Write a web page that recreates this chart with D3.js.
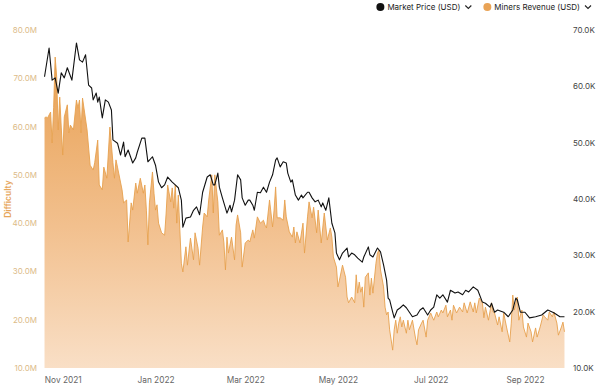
<!DOCTYPE html>
<html>
<head>
<meta charset="utf-8">
<script src="https://cdn.jsdelivr.net/npm/d3@7"></script>
<style>
  body { margin: 0; background: #fff; }
  svg { font-family: Inter, "Noto Sans", sans-serif; display: block; }
</style>
</head>
<body>
<div id="chart"></div>
<script>
// Series are [day offset from startDate, value]
const startDate = new Date(2021, 9, 19);
const endDate = new Date(2022, 8, 28);

// Miners revenue, millions USD (left axis)
const revenueSeries = [
  [1,61.8],[2,62.0],[3,61.8],[5,63.0],[6,56.6],[7,64.0],[8,74.4],[9,70.3],[10,59.3],[11,66.1],
  [12,59.9],[13,54.1],[14,62.0],[16,64.5],[17,58.7],[18,60.3],[20,59.3],[22,65.5],[23,63.8],[24,65.5],
  [25,58.7],[26,65.9],[29,59.3],[31,52.0],[33,51.0],[34,52.5],[36,57.2],[37,47.9],[39,46.9],[40,51.6],
  [42,49.3],[44,59.9],[46,52.5],[47,49.3],[48,53.1],[49,51.6],[52,46.9],[53,44.2],[55,44.8],[56,36.1],
  [58,44.2],[59,42.7],[61,48.3],[62,46.2],[64,49.3],[66,46.2],[67,47.9],[68,42.7],[69,35.5],[70,44.2],
  [72,50.6],[73,46.2],[74,42.7],[75,43.8],[76,40.0],[78,38.0],[80,37.5],[81,42.1],[82,47.9],[84,44.4],
  [85,47.3],[86,43.1],[87,47.9],[88,40.0],[89,45.8],[91,31.7],[92,29.9],[94,35.1],[95,31.3],[97,36.9],
  [99,32.4],[100,38.0],[102,34.8],[103,31.3],[105,39.2],[106,42.1],[108,41.3],[109,44.8],[111,50.0],[112,42.1],
  [113,50.0],[115,44.4],[116,37.5],[118,38.6],[119,35.9],[120,30.3],[121,37.1],[122,33.8],[124,37.1],[126,32.4],
  [127,39.6],[128,41.7],[130,38.0],[131,30.9],[133,35.9],[135,36.5],[136,36.1],[138,38.6],[139,36.9],[141,41.3],
  [143,40.0],[145,40.6],[146,39.6],[147,39.0],[149,44.8],[151,39.2],[152,42.7],[153,47.5],[154,41.1],[156,41.1],
  [158,40.6],[159,44.8],[160,41.3],[162,38.2],[164,37.1],[165,39.2],[166,35.9],[167,38.2],[169,35.9],[171,40.0],
  [172,33.8],[174,41.3],[175,44.4],[177,41.1],[178,43.3],[180,38.0],[181,42.7],[183,35.9],[184,39.0],[185,42.1],
  [187,36.5],[189,39.0],[190,37.1],[191,33.0],[193,30.9],[194,26.8],[195,28.2],[197,31.3],[199,28.8],[200,24.7],
  [201,23.5],[203,24.7],[205,23.5],[206,29.3],[207,25.5],[208,27.8],[209,25.7],[210,26.8],[211,22.6],[212,28.8],
  [214,29.7],[215,25.1],[216,28.6],[217,25.5],[219,31.7],[220,33.8],[221,34.4],[222,30.3],[224,26.8],[225,22.6],
  [226,21.0],[227,21.6],[228,17.9],[230,13.7],[231,17.9],[232,19.9],[233,17.2],[234,19.3],[235,20.6],[236,18.5],
  [237,19.9],[239,17.2],[240,19.9],[241,17.9],[243,19.9],[245,16.2],[246,14.8],[247,17.9],[249,19.3],[250,19.9],
  [252,16.4],[253,19.9],[255,21.4],[256,20.6],[257,19.9],[259,21.6],[260,20.6],[262,22.0],[263,21.4],[265,23.0],
  [266,20.6],[268,22.0],[269,19.9],[270,23.0],[272,21.4],[274,22.6],[276,21.6],[277,23.5],[279,21.4],[281,23.7],
  [283,21.6],[284,23.5],[285,21.4],[287,24.5],[289,23.5],[290,20.4],[291,22.6],[293,19.9],[295,23.5],[296,21.6],
  [297,21.4],[299,18.9],[300,20.6],[302,17.5],[303,21.4],[305,18.3],[307,15.4],[308,19.3],[309,25.1],[310,22.0],
  [312,24.7],[313,19.9],[315,22.0],[316,18.5],[318,16.4],[319,19.3],[321,17.5],[322,15.4],[324,18.3],[325,16.4],
  [327,18.5],[329,21.0],[330,20.6],[332,19.9],[333,21.6],[335,20.6],[336,21.6],[338,19.3],[339,16.8],[341,18.5],
  [342,19.5],[343,17.5]
];

// Market price, thousands USD (right axis)
const priceSeries = [
  [1,61.7],[4,66.8],[6,61.1],[8,61.5],[10,58.8],[12,62.4],[14,61.5],[16,63.3],[19,61.1],[22,67.7],
  [24,64.7],[26,64.3],[28,65.6],[30,60.2],[32,59.7],[33,57.6],[35,58.8],[36,57.2],[37,58.1],[39,54.4],
  [41,57.6],[43,57.2],[45,55.8],[46,50.5],[49,49.9],[51,47.8],[53,50.1],[54,47.5],[56,48.7],[59,46.4],
  [61,47.3],[62,48.3],[65,50.8],[67,50.8],[69,46.6],[72,47.5],[74,46.0],[76,43.0],[78,42.0],[80,42.5],
  [82,43.9],[85,43.0],[87,42.5],[89,42.0],[91,39.8],[92,35.0],[94,36.6],[97,36.8],[99,38.0],[101,38.6],
  [103,37.2],[105,41.2],[108,43.9],[110,44.3],[112,42.5],[113,42.5],[115,44.6],[116,42.1],[118,40.2],[121,37.5],
  [123,38.9],[124,37.7],[126,39.8],[128,44.3],[130,43.4],[131,40.2],[133,38.9],[135,39.8],[136,39.8],[138,38.9],
  [139,38.0],[141,41.2],[143,41.1],[145,42.1],[147,41.2],[149,43.0],[151,44.3],[153,46.9],[154,47.3],[156,45.7],
  [158,46.6],[160,46.4],[161,44.6],[163,43.0],[164,43.4],[166,40.7],[168,39.8],[170,40.7],[171,40.2],[174,41.2],
  [175,41.2],[177,40.2],[179,39.5],[181,39.8],[183,38.6],[184,39.3],[186,38.0],[188,40.2],[190,35.7],[192,34.0],
  [193,30.4],[195,29.2],[197,30.4],[200,31.3],[201,29.7],[203,30.4],[205,30.1],[207,29.5],[210,28.8],[211,29.7],
  [214,31.5],[215,30.1],[217,29.7],[220,31.3],[222,30.6],[224,28.3],[226,25.6],[227,22.4],[228,22.1],[230,19.9],
  [231,18.9],[233,20.3],[235,20.7],[237,21.2],[239,20.7],[241,19.9],[243,19.1],[246,19.4],[248,20.3],[250,20.7],
  [253,19.4],[255,20.3],[257,20.8],[259,23.0],[261,22.4],[263,23.0],[266,21.7],[268,23.8],[271,23.3],[273,23.5],
  [276,23.0],[278,23.8],[280,23.5],[283,24.4],[286,23.8],[289,21.7],[291,21.5],[294,20.8],[295,21.5],[297,19.9],
  [299,20.3],[303,19.9],[306,19.1],[309,20.3],[311,22.4],[312,22.1],[314,19.9],[317,19.9],[320,18.9],[324,19.1],
  [328,19.4],[332,20.3],[336,19.8],[340,19.1],[343,19.1]
];

const revenueTicks = [10, 20, 30, 40, 50, 60, 70, 80];
const priceTicks = [10, 20, 30, 40, 50, 60, 70];
const legendItems = [
  {label: "Market Price (USD)", color: "#111111"},
  {label: "Miners Revenue (USD)", color: "#e9a356"}
];

const W = 600, H = 387;
const margin = {top: 30, right: 34, bottom: 19, left: 43};

const svg = d3.select("#chart")
    .append("svg")
    .attr("width", W)
    .attr("height", H);

const x = d3.scaleTime()
    .domain([startDate, endDate])
    .range([margin.left, W - margin.right]);
const yLeft = d3.scaleLinear()
    .domain([10, 80])
    .range([H - margin.bottom, margin.top]);
const yRight = d3.scaleLinear()
    .domain([10, 70])
    .range([H - margin.bottom, margin.top]);

const toDate = d => d3.timeDay.offset(startDate, d);

// gradient for the revenue area
const grad = svg.append("defs").append("linearGradient")
    .attr("id", "revFill")
    .attr("gradientUnits", "userSpaceOnUse")
    .attr("x1", 0).attr("x2", 0)
    .attr("y1", yLeft(75)).attr("y2", yLeft(10));
grad.append("stop").attr("offset", "0%").attr("stop-color", "#e8a052");
grad.append("stop").attr("offset", "55%").attr("stop-color", "#f2c08e");
grad.append("stop").attr("offset", "100%").attr("stop-color", "#f9dfc6");

const area = d3.area()
    .x(d => x(toDate(d[0])))
    .y0(yLeft(10))
    .y1(d => yLeft(d[1]));
const revLine = d3.line()
    .x(d => x(toDate(d[0])))
    .y(d => yLeft(d[1]));
const priceLine = d3.line()
    .x(d => x(toDate(d[0])))
    .y(d => yRight(d[1]));

svg.append("path")
    .datum(revenueSeries)
    .attr("fill", "url(#revFill)")
    .attr("d", area);
svg.append("path")
    .datum(revenueSeries)
    .attr("fill", "none")
    .attr("stroke", "#e6a04e")
    .attr("stroke-width", 0.9)
    .attr("d", revLine);
svg.append("path")
    .datum(priceSeries)
    .attr("fill", "none")
    .attr("stroke", "#111")
    .attr("stroke-width", 1.1)
    .attr("stroke-linejoin", "round")
    .attr("d", priceLine);

// Left axis
svg.append("g")
    .attr("transform", "translate(" + margin.left + ",0)")
    .call(d3.axisLeft(yLeft).tickValues(revenueTicks)
        .tickFormat(d => d.toFixed(1) + "M").tickSize(0).tickPadding(6))
    .call(g => g.select(".domain").remove())
    .selectAll("text")
    .style("font-family", "Inter, sans-serif")
    .style("font-size", "8px")
    .attr("fill", "#dcbb88");

// Right axis
svg.append("g")
    .attr("transform", "translate(" + (W - margin.right) + ",0)")
    .call(d3.axisRight(yRight).tickValues(priceTicks)
        .tickFormat(d => d.toFixed(1) + "K").tickSize(0).tickPadding(7))
    .call(g => g.select(".domain").remove())
    .selectAll("text")
    .style("font-family", "Inter, sans-serif")
    .style("font-size", "8px")
    .attr("fill", "#444");

// Bottom axis
svg.append("g")
    .attr("transform", "translate(0," + (H - margin.bottom) + ")")
    .call(d3.axisBottom(x).ticks(d3.timeMonth.every(2))
        .tickFormat(d3.timeFormat("%b %Y")).tickSize(0).tickPadding(9))
    .call(g => g.select(".domain").remove())
    .selectAll("text")
    .style("font-family", "Inter, sans-serif")
    .style("font-size", "8.3px")
    .attr("fill", "#666");

// Axis title
svg.append("text")
    .attr("transform", "translate(8," + yLeft(45) + ") rotate(-90)")
    .attr("text-anchor", "middle")
    .attr("dominant-baseline", "central")
    .style("font-size", "8.5px")
    .style("font-weight", "600")
    .attr("fill", "#e6a65a")
    .text("Difficulty");

// Legend, right aligned
const legend = svg.append("g").attr("transform", "translate(0,7)");
let cursor = W - 9;
const items = legendItems.slice().reverse();
items.forEach(item => {
    const g = legend.append("g");
    // chevron
    g.append("path")
        .attr("d", `M${cursor - 6},-1.5 L${cursor - 3},1.5 L${cursor},-1.5`)
        .attr("fill", "none")
        .attr("stroke", "#222")
        .attr("stroke-width", 1.1);
    const t = g.append("text")
        .attr("x", cursor - 11)
        .attr("y", 0)
        .attr("text-anchor", "end")
        .attr("dominant-baseline", "central")
        .style("font-size", "8px")
        .attr("fill", "#222")
        .text(item.label);
    const tw = t.node().getComputedTextLength();
    g.append("circle")
        .attr("cx", cursor - 11 - tw - 7)
        .attr("cy", 0)
        .attr("r", 4)
        .attr("fill", item.color);
    cursor = cursor - 11 - tw - 7 - 4 - 12;
});
</script>
</body>
</html>
